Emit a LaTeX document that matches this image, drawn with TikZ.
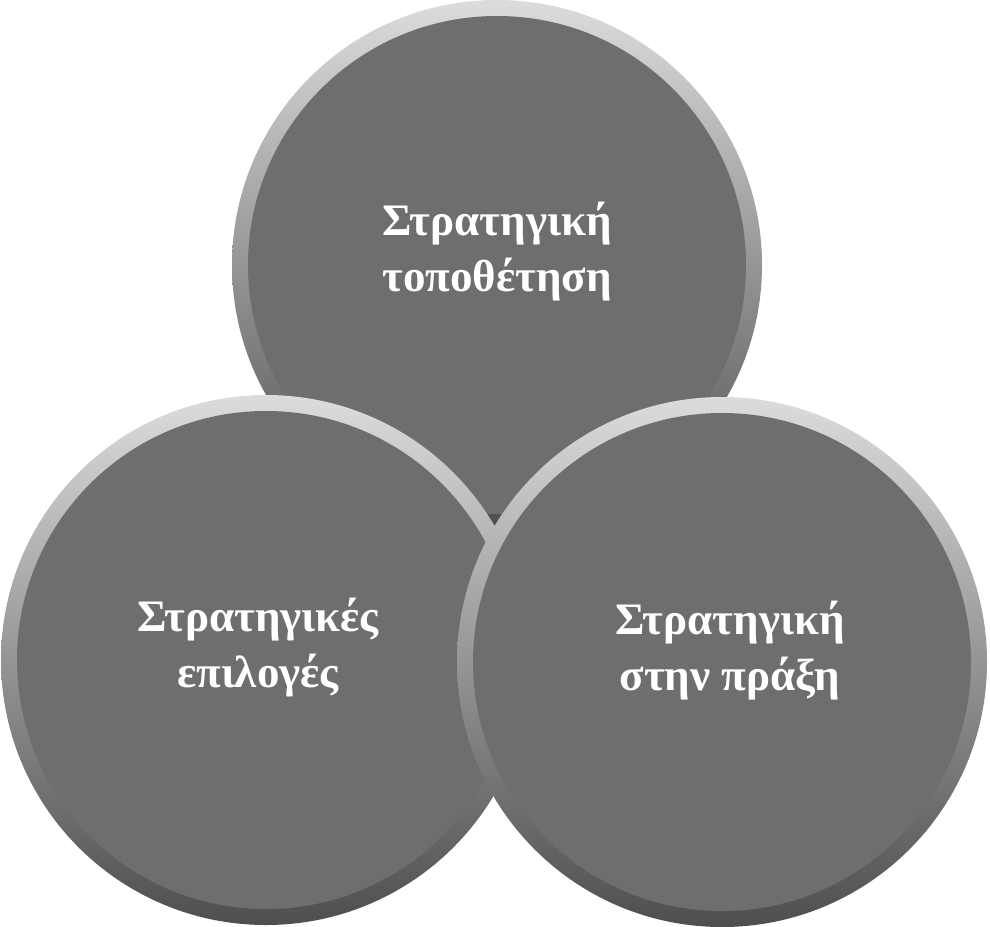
\documentclass[tikz,border=0pt]{standalone}
\usepackage{fontspec}
\setmainfont{Liberation Serif}
\definecolor{rimTop}{RGB}{220,220,220}
\definecolor{rimMid}{RGB}{165,165,165}
\definecolor{rimBottom}{RGB}{78,78,78}
\definecolor{discGray}{RGB}{110,110,110}
\begin{document}
\begin{tikzpicture}[
        x=1pt, y=-1pt,
        ring/.style={circle, inner sep=0pt, minimum size=530pt, top color=rimTop, middle color=rimMid, bottom color=rimBottom},
        disc/.style={circle, inner sep=0pt, minimum size=498pt, fill=discGray},
        caption/.style={text=white, font=\bfseries\fontsize{45}{56}\selectfont, align=center},
    ]
        \useasboundingbox (0,0) rectangle (990,926);

        %Top circle
        \node[ring] (topRing) at (497,265) {};
        \node[disc] (topDisc) at (topRing.center) {};
        \node[caption] (topText) at (497,252) {Στρατηγική\\τοποθέτηση};

        %Left circle
        \node[ring] (leftRing) at (266,660) {};
        \node[disc] (leftDisc) at (leftRing.center) {};
        \node[caption] (leftText) at (258,648) {Στρατηγικές\\επιλογές};

        %Right circle
        \node[ring] (rightRing) at (722,662) {};
        \node[disc] (rightDisc) at (rightRing.center) {};
        \node[caption] (rightText) at (730,651) {Στρατηγική\\στην πράξη};
    \end{tikzpicture}
\end{document}
